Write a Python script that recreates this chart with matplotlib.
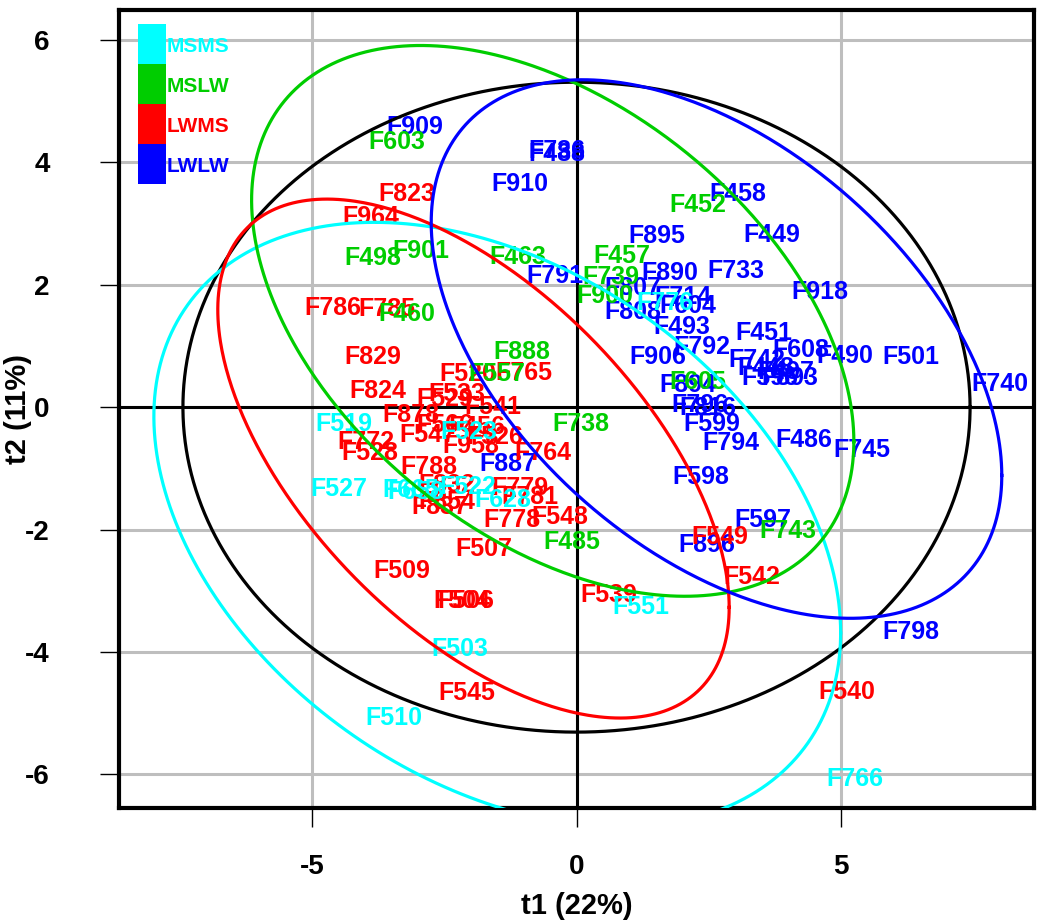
import numpy as np
import matplotlib
matplotlib.use("Agg")
import matplotlib.pyplot as plt
from matplotlib.patches import Rectangle

plt.rcParams['font.family'] = ['Liberation Sans', 'DejaVu Sans']
plt.rcParams['font.weight'] = 'bold'
plt.rcParams['axes.unicode_minus'] = False

# group scores (t1, t2)
lwlw_lab = ["F909", "F736", "F488", "F910", "F458", "F895", "F449", "F791", "F890", "F733",
            "F918", "F807", "F714", "F604", "F808", "F493", "F451", "F792", "F608", "F490",
            "F501", "F740", "F906", "F742", "F448", "F596", "F497", "F893", "F894", "F796",
            "F816", "F599", "F794", "F486", "F745", "F598", "F597", "F896", "F798", "F887"]
lwlw_t1 = [-3.07, -0.38, -0.38, -1.08, 3.05, 1.52, 3.69, -0.40, 1.76, 3.01,
           4.60, 1.06, 2.01, 2.10, 1.06, 1.99, 3.54, 2.37, 4.24, 5.08,
           6.33, 8.01, 1.53, 3.41, 3.58, 3.66, 3.96, 4.03, 2.10, 2.33,
           2.48, 2.56, 2.93, 4.30, 5.40, 2.35, 3.52, 2.46, 6.33, -1.29]
lwlw_t2 = [4.57, 4.19, 4.13, 3.64, 3.48, 2.79, 2.81, 2.14, 2.19, 2.22,
           1.89, 1.94, 1.80, 1.65, 1.55, 1.31, 1.21, 0.98, 0.93, 0.83,
           0.82, 0.38, 0.82, 0.77, 0.64, 0.47, 0.57, 0.47, 0.36, 0.03,
           -0.02, -0.28, -0.58, -0.53, -0.70, -1.14, -1.84, -2.25, -3.67, -0.93]

lwms_lab = ["F823", "F964", "F786", "F785", "F829", "F824", "F520", "F765", "F533", "F529",
            "F541", "F878", "F566", "F456", "F547", "F526", "F958", "F764", "F772", "F528",
            "F788", "F832", "F779", "F781", "F837", "F854", "F778", "F548", "F507", "F509",
            "F504", "F506", "F539", "F545", "F542", "F549", "F540"]
lwms_t1 = [-3.22, -3.90, -4.62, -3.58, -3.86, -3.77, -2.06, -1.00, -2.27, -2.50,
           -1.59, -3.13, -2.50, -1.89, -2.82, -1.55, -2.01, -0.64, -3.98, -3.92,
           -2.80, -2.46, -1.08, -0.89, -2.58, -2.46, -1.23, -0.32, -1.76, -3.31,
           -2.18, -2.10, 0.61, -2.08, 3.31, 2.71, 5.11]
lwms_t2 = [3.48, 3.10, 1.62, 1.60, 0.82, 0.26, 0.54, 0.56, 0.21, 0.13,
           0.00, -0.13, -0.29, -0.33, -0.46, -0.49, -0.64, -0.75, -0.57, -0.75,
           -0.98, -1.27, -1.32, -1.47, -1.63, -1.55, -1.84, -1.80, -2.32, -2.68,
           -3.17, -3.17, -3.07, -4.67, -2.78, -2.12, -4.65]

mslw_lab = ["F603", "F452", "F498", "F901", "F463", "F457", "F739", "F900", "F460", "F888",
            "F557", "F738", "F485", "F743", "F605"]
mslw_t1 = [-3.41, 2.29, -3.86, -2.95, -1.12, 0.85, 0.66, 0.53, -3.22, -1.04,
           -1.50, 0.09, -0.09, 4.00, 2.29]
mslw_t2 = [4.34, 3.31, 2.43, 2.55, 2.45, 2.47, 2.12, 1.81, 1.52, 0.90,
           0.54, -0.28, -2.20, -2.02, 0.41]

msms_lab = ["F519", "F527", "F665", "F658", "F522", "F628", "F523", "F776", "F551", "F503",
            "F510", "F766"]
msms_t1 = [-4.41, -4.49, -3.13, -3.05, -2.05, -1.40, -2.03, 1.67, 1.21, -2.20,
           -3.45, 5.27]
msms_t2 = [-0.28, -1.34, -1.36, -1.38, -1.30, -1.52, -0.41, 1.71, -3.27, -3.95,
           -5.08, -6.07]

# ellipses: centre, half-extent in t1, half-extent in t2, phase (deg)
ell_names = ["all", "MSMS", "MSLW", "LWMS", "LWLW"]
ell_cx = [0.0, -1.50, -0.45, -1.95, 2.65]
ell_cy = [0.0, -1.92, 1.41, -0.84, 0.95]
ell_rx = [7.45, 6.50, 5.70, 4.84, 5.40]
ell_ry = [5.31, 4.94, 4.50, 4.24, 4.40]
ell_ph = [90, 111, 116, 125, 118]

groups = ["MSMS", "MSLW", "LWMS", "LWLW"]
cols = {"MSMS": "#00FFFF", "MSLW": "#00CD00", "LWMS": "#FF0000", "LWLW": "#0000FF", "all": "black"}

fig = plt.figure(figsize=(10.37, 9.22), dpi=100)
ax = fig.add_axes([119 / 1037, 1 - 808 / 922, 915 / 1037, 798 / 922])

ax.set_xlim(-8.66, 8.66)
ax.set_ylim(-6.55, 6.49)
ax.set_xticks([-5, 0, 5])
ax.set_yticks([-6, -4, -2, 0, 2, 4, 6])
ax.grid(True, color="#BEBEBE", lw=2.2)
ax.set_axisbelow(True)
ax.axhline(0, color="black", lw=2.2, zorder=1)
ax.axvline(0, color="black", lw=2.2, zorder=1)

data = [("LWLW", lwlw_lab, lwlw_t1, lwlw_t2),
        ("LWMS", lwms_lab, lwms_t1, lwms_t2),
        ("MSLW", mslw_lab, mslw_t1, mslw_t2),
        ("MSMS", msms_lab, msms_t1, msms_t2)]
for g, labs, xs, ys in data:
    for lab, x, y in zip(labs, xs, ys):
        ax.text(x, y, lab, color=cols[g], fontsize=18, fontweight="bold",
                ha="center", va="center", zorder=3)

t = np.linspace(0, 2 * np.pi, 500)
for n, cx, cy, rx, ry, ph in zip(ell_names, ell_cx, ell_cy, ell_rx, ell_ry, ell_ph):
    ex = cx + rx * np.cos(t)
    ey = cy + ry * np.cos(t - np.radians(ph))
    ax.plot(ex, ey, color=cols[n], lw=2.3, zorder=4)

for s in ax.spines.values():
    s.set_linewidth(3)
ax.tick_params(axis="both", length=14, width=1, labelsize=20)
ax.tick_params(axis="x", pad=19)
ax.tick_params(axis="y", pad=36)

ax.set_xlabel("t1 (22%)", fontsize=21, fontweight="bold")
ax.set_ylabel("t2 (11%)", fontsize=21, fontweight="bold")
ax.xaxis.set_label_coords(0.5, -0.105)
ax.yaxis.set_label_coords(-0.095, 0.5)

# legend: coloured blocks with coloured labels
box_x, box_w, box_h, box_top = 0.0208, 0.0306, 0.0501, 0.9825
for i, g in enumerate(groups):
    y0 = box_top - (i + 1) * box_h
    ax.add_patch(Rectangle((box_x, y0), box_w, box_h, transform=ax.transAxes,
                           facecolor=cols[g], edgecolor="none", zorder=5))
    ax.text(box_x + box_w + 0.001, y0 + box_h / 2 - 0.003, g, transform=ax.transAxes,
            color=cols[g], fontsize=15, fontweight="bold", ha="left", va="center", zorder=5)

fig.savefig("out.png", dpi=100)
